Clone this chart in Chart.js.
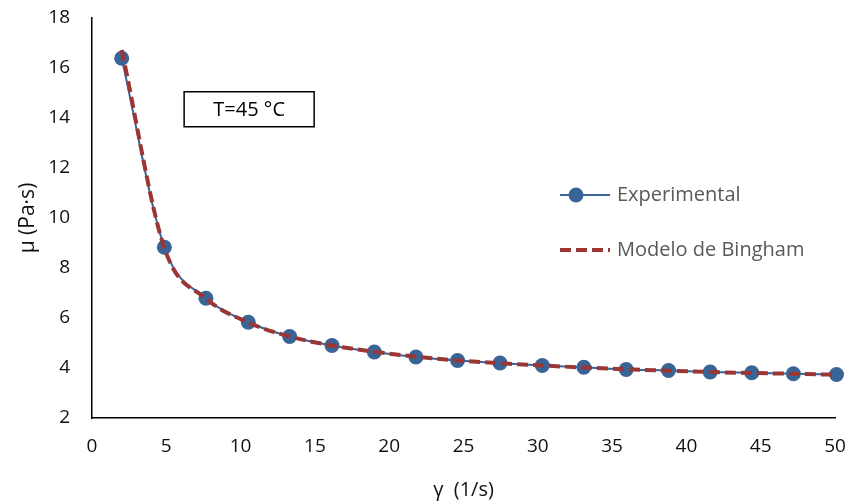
<!DOCTYPE html>
<html>
<head>
<meta charset="utf-8">
<script src="https://cdn.jsdelivr.net/npm/chart.js@4.4.1/dist/chart.umd.min.js"></script>
<style>
  html, body { margin: 0; padding: 0; background: #fff; }
  #wrap { position: relative; width: 851px; height: 504px; }
</style>
</head>
<body>
<div id="wrap"><canvas id="c" width="851" height="504"></canvas></div>
<script>
// Shear rate (1/s)
const shearRate = [2.0, 4.87, 7.67, 10.52, 13.3, 16.15, 19.0, 21.8, 24.6, 27.46, 30.3, 33.1, 35.95, 38.8, 41.6, 44.4, 47.2, 50.1];
// Experimental viscosity (Pa·s)
const experimental = [16.39, 8.83, 6.79, 5.83, 5.26, 4.90, 4.64, 4.44, 4.30, 4.20, 4.10, 4.03, 3.94, 3.90, 3.84, 3.81, 3.77, 3.74];
// Bingham model viscosity (Pa·s)
const bingham = [16.72, 8.80, 6.78, 5.82, 5.26, 4.90, 4.65, 4.45, 4.30, 4.19, 4.10, 4.02, 3.95, 3.89, 3.84, 3.80, 3.77, 3.73];
const xTicks = [0, 5, 10, 15, 20, 25, 30, 35, 40, 45, 50];
const yTicks = [2, 4, 6, 8, 10, 12, 14, 16, 18];
const seriesNames = ['Experimental', 'Modelo de Bingham'];
const annotationText = 'T=45 °C';
const xTitle = 'γ  (1/s)';
const yTitle = 'μ (Pa·s)';

const BLUE = '#3A6496';
const RED = '#9C3634';
const FONT = "'Open Sans', sans-serif";

const toPts = (xs, ys) => xs.map((x, i) => ({ x: x, y: ys[i] }));

const overlay = {
  id: 'overlay',
  afterDraw(chart) {
    const ctx = chart.ctx;
    const xs = chart.scales.x, ys = chart.scales.y;
    ctx.save();
    // Annotation box
    const bx = xs.getPixelForValue(6.2), bx2 = xs.getPixelForValue(14.95);
    const by = ys.getPixelForValue(15.05), by2 = ys.getPixelForValue(13.65);
    ctx.strokeStyle = '#000';
    ctx.lineWidth = 1.5;
    ctx.strokeRect(bx, by, bx2 - bx, by2 - by);
    ctx.fillStyle = '#000';
    ctx.font = '20px ' + FONT;
    ctx.textAlign = 'center';
    ctx.textBaseline = 'middle';
    ctx.fillText(annotationText, (bx + bx2) / 2, (by + by2) / 2 + 1);
    // Legend
    const lx1 = 560, lx2 = 610, ty1 = 195, ty2 = 250;
    ctx.strokeStyle = BLUE; ctx.lineWidth = 2; ctx.setLineDash([]);
    ctx.beginPath(); ctx.moveTo(lx1, ty1); ctx.lineTo(lx2, ty1); ctx.stroke();
    ctx.fillStyle = BLUE;
    ctx.beginPath(); ctx.arc(576, ty1, 7.5, 0, Math.PI * 2); ctx.fill();
    ctx.strokeStyle = RED; ctx.lineWidth = 4; ctx.setLineDash([11, 5]);
    ctx.beginPath(); ctx.moveTo(lx1, ty2); ctx.lineTo(lx2, ty2); ctx.stroke();
    ctx.setLineDash([]);
    ctx.fillStyle = '#595959';
    ctx.font = '20px ' + FONT;
    ctx.textAlign = 'left';
    ctx.fillText(seriesNames[0], 617, ty1);
    ctx.fillText(seriesNames[1], 617, ty2);
    ctx.restore();
  }
};

new Chart(document.getElementById('c'), {
  type: 'scatter',
  data: {
    datasets: [
      {
        label: seriesNames[1],
        data: toPts(shearRate, bingham),
        showLine: true,
        borderColor: RED,
        borderWidth: 4,
        borderDash: [11, 5],
        pointRadius: 0,
        cubicInterpolationMode: 'monotone',
        clip: false,
        order: 0
      },
      {
        label: seriesNames[0],
        data: toPts(shearRate, experimental),
        showLine: true,
        borderColor: BLUE,
        borderWidth: 2,
        pointRadius: 7.5,
        pointBackgroundColor: BLUE,
        pointBorderColor: BLUE,
        pointBorderWidth: 0,
        cubicInterpolationMode: 'monotone',
        clip: false,
        order: 1
      }
    ]
  },
  options: {
    responsive: false,
    animation: false,
    layout: { padding: { top: 18, right: 16, left: 0, bottom: 0 } },
    plugins: { legend: { display: false }, tooltip: { enabled: false } },
    scales: {
      x: {
        type: 'linear',
        min: 0, max: 50,
        afterBuildTicks: s => { s.ticks = xTicks.map(v => ({ value: v })); },
        afterFit: s => { s.height = 86; s.paddingLeft = 0; s.paddingRight = 0; },
        grid: { display: false, drawTicks: false },
        border: { display: true, color: '#000', width: 1.5 },
        ticks: { color: '#111', font: { family: FONT, size: 19 }, padding: 17, maxRotation: 0, autoSkip: false },
        title: { display: true, text: xTitle, color: '#111', font: { family: FONT, size: 20 }, padding: { top: 0, bottom: 2 } }
      },
      y: {
        type: 'linear',
        min: 2, max: 18,
        afterBuildTicks: s => { s.ticks = yTicks.map(v => ({ value: v })); },
        afterFit: s => { s.width = 92; s.paddingTop = 0; s.paddingBottom = 0; },
        grid: { display: false, drawTicks: false },
        border: { display: true, color: '#000', width: 1.5 },
        ticks: { color: '#111', font: { family: FONT, size: 19 }, padding: 22, autoSkip: false },
        title: { display: true, text: yTitle, color: '#111', font: { family: FONT, size: 21 }, padding: { top: 15, bottom: 0 } }
      }
    }
  },
  plugins: [overlay]
});
</script>
</body>
</html>
